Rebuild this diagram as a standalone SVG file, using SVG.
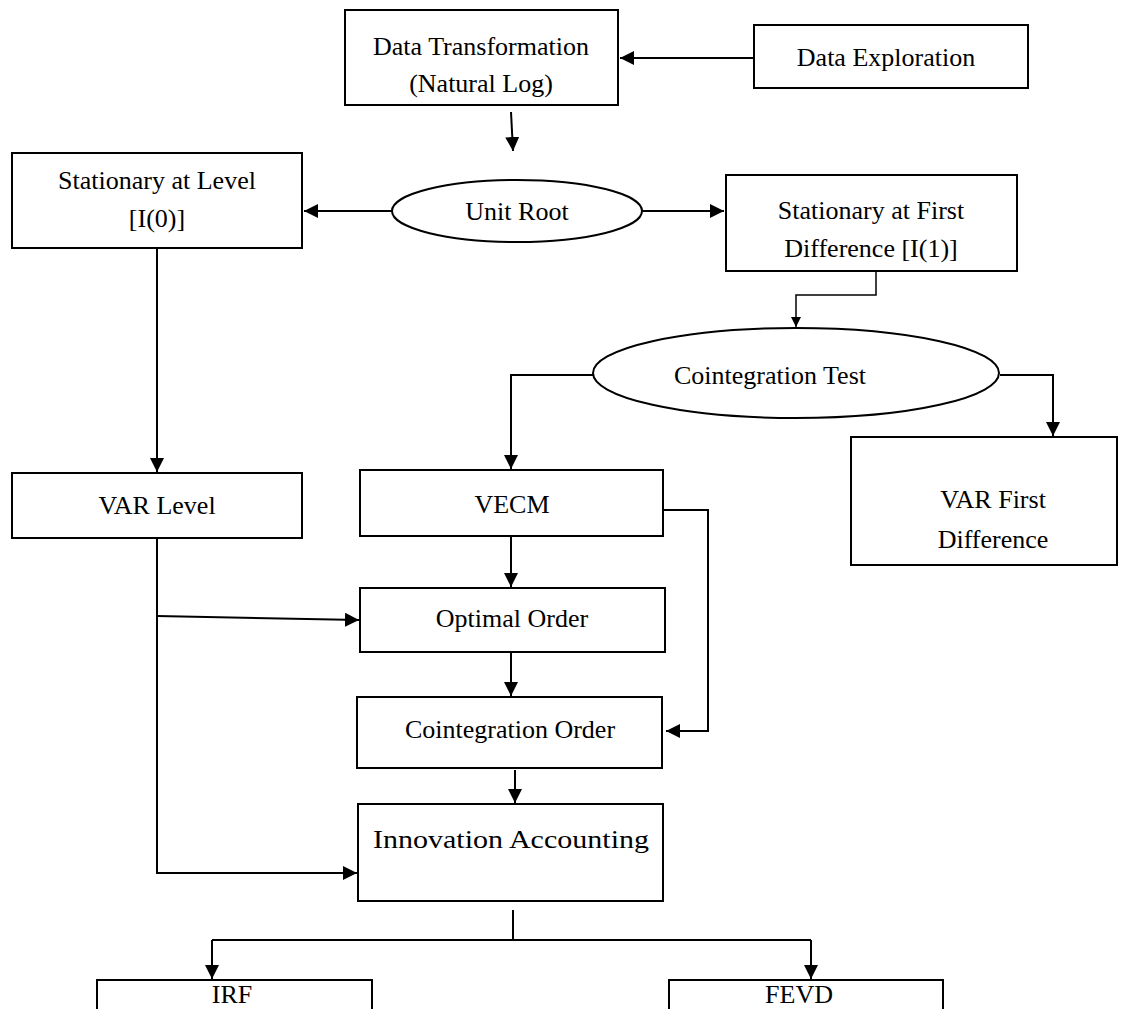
<svg xmlns="http://www.w3.org/2000/svg" width="1144" height="1009" viewBox="0 0 1144 1009">
<style>
.b{fill:#fff;stroke:#000;stroke-width:2}
.t{font-family:"Liberation Serif","Times New Roman",serif;font-size:26px;fill:#000;text-anchor:middle}
.c{fill:none;stroke:#000;stroke-width:2}
</style>
<defs>
<marker id="a" viewBox="0 0 10 10" refX="10" refY="5" markerWidth="7" markerHeight="7" orient="auto" markerUnits="strokeWidth"><path d="M0,0L10,5L0,10z" fill="#000"/></marker>
</defs>
<rect width="1144" height="1009" fill="#fff"/>
<g id="connectors">
<path class="c" d="M754,58H620" marker-end="url(#a)"/>
<path class="c" d="M511,112L513,151" marker-end="url(#a)"/>
<path class="c" d="M392,211H304" marker-end="url(#a)"/>
<path class="c" d="M642,211H724" marker-end="url(#a)"/>
<path class="c" d="M876,271V295H796V327" marker-end="url(#a)" style="stroke-width:1.5"/>
<path class="c" d="M593,375H511V469" marker-end="url(#a)"/>
<path class="c" d="M1000,375H1053V436" marker-end="url(#a)"/>
<path class="c" d="M157,248V472" marker-end="url(#a)"/>
<path class="c" d="M663,510H708V731H666" marker-end="url(#a)"/>
<path class="c" d="M511,537V587" marker-end="url(#a)"/>
<path class="c" d="M511,653V696" marker-end="url(#a)"/>
<path class="c" d="M515,770V803" marker-end="url(#a)"/>
<path class="c" d="M157,538V873H357" marker-end="url(#a)"/>
<path class="c" d="M157,616L359,620" marker-end="url(#a)"/>
<path class="c" d="M513,910V940"/>
<path class="c" d="M212,940H811"/>
<path class="c" d="M212,940V979" marker-end="url(#a)"/>
<path class="c" d="M811,940V979" marker-end="url(#a)"/>
</g>
<g id="data-transformation"><rect class="b" x="345" y="10" width="273" height="95"/><text class="t" x="481" y="55">Data Transformation</text><text class="t" x="481" y="92">(Natural Log)</text></g>
<g id="data-exploration"><rect class="b" x="754" y="25" width="274" height="63"/><text class="t" x="886" y="66">Data Exploration</text></g>
<g id="unit-root"><ellipse class="b" cx="517" cy="211" rx="125" ry="31"/><text class="t" x="517" y="220">Unit Root</text></g>
<g id="stationary-level"><rect class="b" x="12" y="153" width="290" height="95"/><text class="t" x="157" y="189">Stationary at Level</text><text class="t" x="157" y="227">[I(0)]</text></g>
<g id="stationary-first"><rect class="b" x="726" y="175" width="291" height="96"/><text class="t" x="871" y="219">Stationary at First</text><text class="t" x="871" y="257">Difference [I(1)]</text></g>
<g id="cointegration-test"><ellipse class="b" cx="796" cy="373" rx="203" ry="45"/><text class="t" x="770" y="384">Cointegration Test</text></g>
<g id="var-level"><rect class="b" x="12" y="473" width="290" height="65"/><text class="t" x="157" y="514">VAR Level</text></g>
<g id="vecm"><rect class="b" x="360" y="470" width="303" height="66"/><text class="t" x="512" y="513">VECM</text></g>
<g id="var-first-diff"><rect class="b" x="851" y="437" width="266" height="128"/><text class="t" x="993" y="508">VAR First</text><text class="t" x="993" y="548">Difference</text></g>
<g id="optimal-order"><rect class="b" x="360" y="588" width="305" height="64"/><text class="t" x="512" y="627">Optimal Order</text></g>
<g id="cointegration-order"><rect class="b" x="357" y="697" width="305" height="71"/><text class="t" x="510" y="738">Cointegration Order</text></g>
<g id="innovation-accounting"><rect class="b" x="358" y="804" width="305" height="97"/><text class="t" x="511" y="848" textLength="276" lengthAdjust="spacingAndGlyphs">Innovation Accounting</text></g>
<g id="irf"><rect class="b" x="97" y="980" width="275" height="40"/><text class="t" x="232" y="1003">IRF</text></g>
<g id="fevd"><rect class="b" x="669" y="980" width="274" height="40"/><text class="t" x="799" y="1003">FEVD</text></g>
</svg>
